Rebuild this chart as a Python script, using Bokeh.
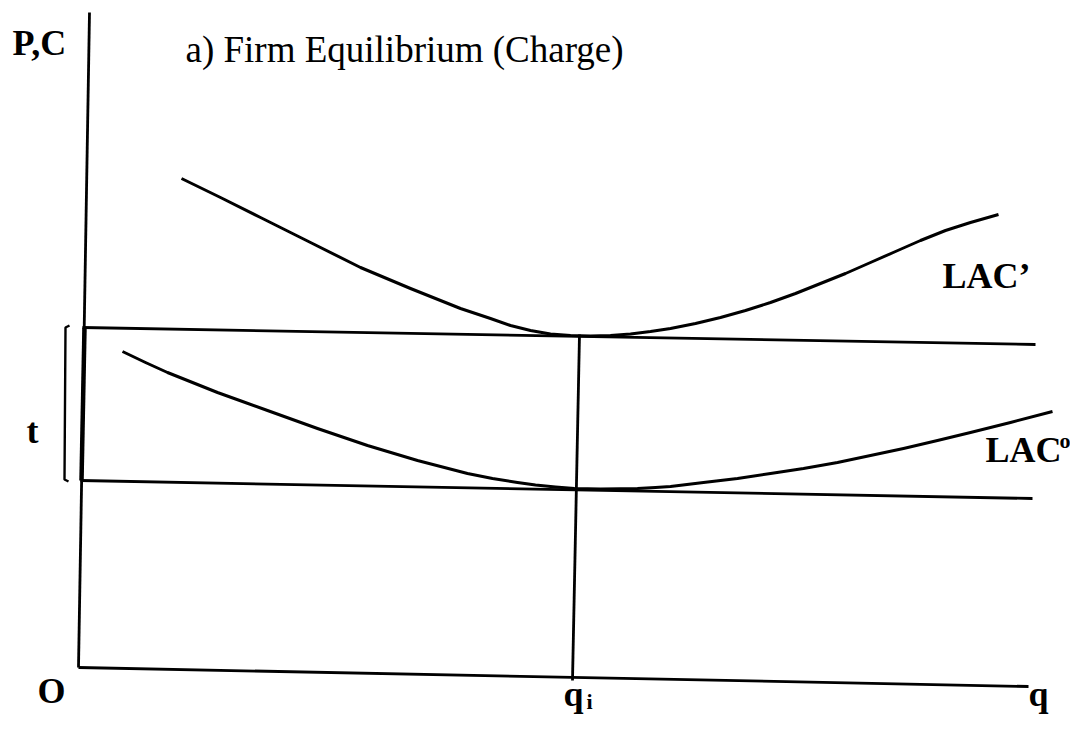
from bokeh.plotting import figure
from bokeh.models import Range1d
from bokeh.core.properties import value
from bokeh.embed import file_html
from bokeh.resources import INLINE

# ---- data (diagram coordinates, y grows downward) ----
yaxis_x = [89, 78]
yaxis_y = [12, 667]
xaxis_x = [78, 1028]
xaxis_y = [667, 686]

# price levels (minimum of LAC' and LAC°)
p_high_x = [82, 1035]
p_high_y = [327, 344]
p_low_x = [80, 1032]
p_low_y = [480, 498]

# equilibrium quantity q_i
qi_x = [579, 572]
qi_y = [334, 680]

# charge t: thick part of the axis and bracket
t_seg_x = [84, 81]
t_seg_y = [327, 480]
t_br_x = [69, 65, 64, 68]
t_br_y = [325, 327, 479, 481]

# LAC' (with charge)
lac1_q = [181, 220, 260, 310, 360, 410, 460, 490, 510, 530, 550, 570, 590, 610,
          630, 650, 670, 695, 720, 745, 770, 795, 820, 845, 870, 895, 920, 945,
          970, 998]
lac1_c = [178, 197, 217, 242, 267, 288, 308, 318, 325, 330, 333.5, 335, 335.5, 335,
          333.5, 331, 328, 323, 317, 310, 302, 293, 283, 273, 262, 251, 240, 230,
          222, 214]

# LAC° (without charge)
lac0_q = [122, 145, 167, 192, 217, 242, 267, 317, 367, 417, 467, 492, 517, 535,
          555, 574, 600, 620, 637, 655, 670, 703, 737, 770, 803, 837, 870, 903,
          937, 970, 1010, 1052]
lac0_c = [351, 362, 372, 382, 392, 401, 410, 428, 445, 460, 473, 478, 482, 484.5,
          486.5, 488, 488.5, 488.3, 488, 487, 486, 482, 478, 473, 468, 462, 455, 448,
          440, 432, 422, 411]

labels_bold = ["P,C", "t", "O", "q", "q", "LAC\u2019", "LAC"]
labels_x = [12, 26, 37, 563, 1028, 942, 985]
labels_y = [42, 430, 690, 693, 693, 275, 449]

p = figure(width=1070, height=714, output_backend="svg", toolbar_location=None,
           x_range=Range1d(0, 1070), y_range=Range1d(714, 0),
           min_border=0, outline_line_color=None, background_fill_color="white",
           border_fill_color="white")
p.axis.visible = False
p.grid.visible = False

lw = 3
col = "black"
p.line(yaxis_x, yaxis_y, line_width=2.8, line_color=col)
p.line(xaxis_x, xaxis_y, line_width=2.8, line_color=col)
p.line(p_high_x, p_high_y, line_width=2.8, line_color=col)
p.line(p_low_x, p_low_y, line_width=2.8, line_color=col)
p.line(qi_x, qi_y, line_width=2.8, line_color=col)
p.line(t_seg_x, t_seg_y, line_width=4.5, line_color=col)
p.line(t_br_x, t_br_y, line_width=2.4, line_color=col)
p.line(lac1_q, lac1_c, line_width=lw, line_color=col, line_join="round")
p.line(lac0_q, lac0_c, line_width=lw, line_color=col, line_join="round")

serif = value("Liberation Serif")
p.text(x=labels_x, y=labels_y, text=labels_bold, text_font=serif,
       text_font_size="36px", text_font_style="bold", text_color=col,
       text_baseline="alphabetic", text_align="left")
# subscript / superscript
p.text(x=[586], y=[701], text=["i"], text_font=serif, text_font_size="22px",
       text_font_style="bold", text_color=col, text_baseline="alphabetic")
p.text(x=[1059], y=[440], text=["o"], text_font=serif, text_font_size="22px",
       text_font_style="bold", text_color=col, text_baseline="alphabetic")
# title
p.text(x=[185], y=[49], text=["a) Firm Equilibrium (Charge)"], text_font=serif,
       text_font_size="37px", text_color=col, text_baseline="alphabetic")

open("out.html", "w").write(file_html(p, INLINE))
